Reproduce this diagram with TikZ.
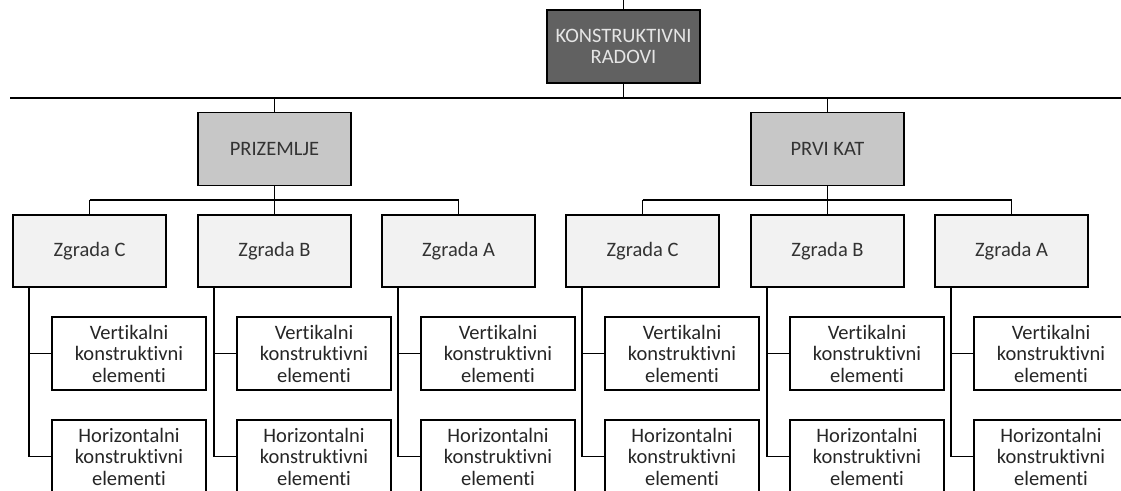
\documentclass[tikz,border=0pt]{standalone}
\usepackage{fontspec}
\setmainfont{Carlito}[Ligatures=NoCommon,RawFeature=-liga]
\begin{document}
\begin{tikzpicture}[x=1pt,y=-1pt,
  box/.style={draw=black,line width=1.4pt,inner sep=0pt,align=center,font=\fontsize{20.5}{21.5}\selectfont},
  topbox/.style={box,fill=black!62,text=black!10,minimum width=153pt,minimum height=73pt},
  lvbox/.style={box,fill=black!22,text=black!80,minimum width=153pt,minimum height=73pt},
  zbox/.style={box,fill=black!5,text=black!80,minimum width=153pt,minimum height=72pt},
  sbox/.style={box,fill=white,text=black!85,minimum width=154pt,minimum height=73pt},
  con/.style={line width=1.4pt}]
\useasboundingbox (0,0) rectangle (1121,490);
\clip (0,0) rectangle (1121,490);
% top
\node[topbox] (top) at (623.5,46.5) {KONSTRUKTIVNI\\RADOVI};
\coordinate (topin) at (623.5,0);
\coordinate (bus) at (623.5,98);
\coordinate (busL) at (10,98);
\coordinate (busR) at (1125,98);
\draw[con] (topin) -- (top.north);
\draw[con] (top.south) -- (bus);
\draw[con] (busL) -- (busR);
% level 1
\node[lvbox] (p) at (274.5,149) {PRIZEMLJE};
\node[lvbox] (k) at (827.5,149) {PRVI KAT};
\draw[con] (p.north) -- (p.north |- bus);
\draw[con] (k.north) -- (k.north |- bus);
% zgrade
\foreach \n/\l/\t in {pc/13/Zgrada C, pb/198/Zgrada B, pa/382/Zgrada A, kc/566/Zgrada C, kb/751/Zgrada B, ka/935/Zgrada A}{
  \node[zbox] (\n) at (\l+76.5,251) {\t};
  \node[sbox] (\n v) at (\l+39+77,353.5) {Vertikalni\\konstruktivni\\elementi};
  \node[sbox] (\n h) at (\l+39+77,456.5) {Horizontalni\\konstruktivni\\elementi};
  \coordinate (\n t) at (\l+16,287);
  \coordinate (\n e) at (\l+16,456.5);
  \draw[con] (\n t) -- (\n e) -- (\n h.west);
  \draw[con] (\n v.west -| \n t) -- (\n v.west);
}
\coordinate (pbar) at (274.5,200);
\coordinate (kbar) at (827.5,200);
\draw[con] (p.south) -- (pbar);
\draw[con] (k.south) -- (kbar);
\draw[con] (pc.north |- pbar) -- (pa.north |- pbar);
\draw[con] (kc.north |- kbar) -- (ka.north |- kbar);
\foreach \n in {pc,pb,pa,kc,kb,ka}{
  \draw[con] (\n.north) -- (\n.north |- pbar);
}
\end{tikzpicture}
\end{document}
